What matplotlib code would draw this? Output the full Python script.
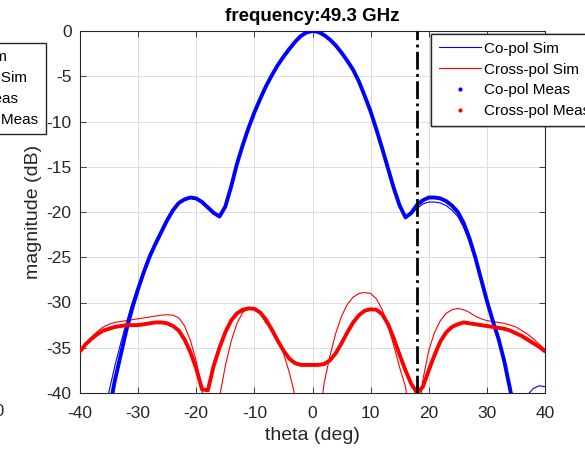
import numpy as np
import matplotlib
matplotlib.use('Agg')
from matplotlib import pyplot as plt
from matplotlib.lines import Line2D

plt.rcParams['font.family'] = ['Liberation Sans', 'DejaVu Sans']
plt.rcParams['axes.unicode_minus'] = False

theta = np.arange(-40, 41)

copol_meas = [-48, -48, -47, -46, -44, -42, -38.6, -35.8, -33.0, -30.6,
              -28.5, -26.6, -24.9, -23.5, -22.2, -20.9, -19.8, -19.0, -18.6, -18.4,
              -18.5, -18.9, -19.5, -20.1, -20.5, -19.4, -17.2, -14.7, -12.6, -10.7,
              -9.0, -7.5, -6.1, -4.9, -3.8, -2.85, -2.0, -1.2, -0.55, -0.15,
              0.0,
              -0.1, -0.45, -0.95, -1.6, -2.4, -3.3, -4.3, -5.6, -7.2, -8.9,
              -10.9, -13.0, -15.2, -17.4, -19.3, -20.6, -20.1, -19.2, -18.7, -18.4,
              -18.4, -18.5, -18.8, -19.3, -20.0, -21.2, -22.9, -25.0, -27.4, -29.8,
              -32.0, -34.0, -36.5, -39.6, -43, -45, -46, -47, -48, -48]

copol_sim = [-48, -48, -47, -46, -43, -39.8, -37.0, -34.5, -32.2, -30.0,
             -28.2, -26.4, -24.7, -23.3, -22.0, -20.8, -19.8, -19.0, -18.6, -18.5,
             -18.6, -19.0, -19.6, -20.1, -20.4, -19.4, -17.2, -14.7, -12.6, -10.7,
             -9.0, -7.5, -6.1, -4.9, -3.8, -2.85, -2.0, -1.2, -0.55, -0.15,
             0.0,
             -0.1, -0.45, -0.95, -1.6, -2.4, -3.3, -4.3, -5.6, -7.2, -8.9,
             -10.9, -13.0, -15.2, -17.4, -19.3, -20.5, -20.2, -19.6, -19.1, -18.9,
             -18.9, -19.0, -19.3, -19.8, -20.5, -21.7, -23.3, -25.3, -27.6, -30.0,
             -32.1, -34.2, -36.6, -39.2, -42, -43, -40.2, -39.5, -39.2, -39.3]

xpol_meas = [-35.4, -34.6, -34.0, -33.5, -33.1, -32.9, -32.7, -32.6, -32.5, -32.5,
             -32.5, -32.4, -32.3, -32.2, -32.2, -32.3, -32.6, -33.1, -34.1, -35.5,
             -37.3, -39.6, -39.7, -37.0, -35.0, -33.3, -32.0, -31.2, -30.8, -30.65,
             -30.7, -31.1, -31.9, -33.0, -34.2, -35.3, -36.2, -36.7, -36.9, -36.9,
             -36.9,
             -36.9, -36.8, -36.4, -35.6, -34.5, -33.3, -32.2, -31.4, -30.9, -30.75,
             -30.8, -31.3, -32.4, -34.0, -35.8, -37.5, -39.0, -40.0, -39.3, -37.5,
             -35.8, -34.3, -33.3, -32.7, -32.4, -32.2, -32.3, -32.4, -32.5, -32.6,
             -32.7, -32.8, -32.9, -33.1, -33.4, -33.7, -34.1, -34.5, -34.9, -35.4]

xpol_sim = [-35.5, -34.6, -33.8, -33.2, -32.7, -32.4, -32.2, -32.1, -32.0, -31.9,
            -31.8, -31.7, -31.6, -31.5, -31.4, -31.35, -31.4, -31.7, -32.6, -34.2,
            -36.5, -39.7, -44, -44, -40.5, -37.0, -34.3, -32.3, -31.1, -30.65,
            -30.7, -31.2, -32.3, -32.8, -34.0, -35.6, -37.7, -40.3, -44, -48,
            -48,
            -44, -38.9, -35.9, -33.4, -31.5, -30.2, -29.4, -29.0, -28.9, -29.0,
            -29.6, -30.8, -32.6, -34.8, -37.2, -39.3, -44, -44, -38.5, -35.3,
            -33.3, -32.0, -31.2, -30.8, -30.65, -30.8, -31.1, -31.5, -31.8, -32.0,
            -32.1, -32.2, -32.3, -32.5, -32.7, -33.1, -33.5, -34.0, -34.6, -35.2]

marker_theta = 17.9
labels = ['Co-pol Sim', 'Cross-pol Sim', 'Co-pol Meas', 'Cross-pol Meas']
dark = '#262626'

fig = plt.figure(figsize=(5.85, 4.49), dpi=100)
ax = fig.add_axes([80/585, 1-393/449, 465/585, 362/449])

ax.plot(theta, copol_sim, color='#0000ff', lw=0.8, zorder=3)
ax.plot(theta, xpol_sim, color='#ff0000', lw=0.8, zorder=3)
ax.plot(theta, copol_meas, color='#0000ff', lw=2.8, zorder=4,
        solid_capstyle='round', solid_joinstyle='round')
ax.plot(theta, xpol_meas, color='#ff0000', lw=2.8, zorder=4,
        solid_capstyle='round', solid_joinstyle='round')
ax.axvline(marker_theta, color='black', lw=2, ls='-.', zorder=5)

ax.set_xlim(-40, 40)
ax.set_ylim(-40, 0)
ax.set_xticks(np.arange(-40, 41, 10))
ax.set_yticks(np.arange(-40, 1, 5))
ax.grid(True, color='#dcdcdc', lw=0.7)
ax.set_axisbelow(True)
ax.tick_params(direction='in', top=True, right=True, labelsize=12.5,
               colors=dark, length=4, width=0.6)
ax.tick_params(axis='x', pad=9)
ax.tick_params(axis='y', pad=6)
for s in ax.spines.values():
    s.set_color(dark)
    s.set_linewidth(0.8)

ax.set_xlabel('theta (deg)', fontsize=14, color=dark, labelpad=5)
ax.set_ylabel('magnitude (dB)', fontsize=14, color=dark, labelpad=3)
ax.set_title('frequency:49.3 GHz', fontsize=13.5, fontweight='bold', pad=7)

handles = [Line2D([], [], color='#0000ff', lw=0.8),
           Line2D([], [], color='#ff0000', lw=0.8),
           Line2D([], [], color='#0000ff', ls='none', marker='.', markersize=4),
           Line2D([], [], color='#ff0000', ls='none', marker='.', markersize=4)]

leg_kw = dict(fontsize=11, frameon=True, fancybox=False, framealpha=1,
              edgecolor=dark, handlelength=2.75, handletextpad=0.25,
              labelspacing=0.45, borderpad=0.5, borderaxespad=0)
leg1 = ax.legend(handles, labels, loc='upper left',
                 bbox_to_anchor=(431/585, 1-34/449),
                 bbox_transform=fig.transFigure, **leg_kw)
leg1.get_frame().set_linewidth(1.0)
ax.add_artist(leg1)

# second copy of the legend, cut off at the left edge
leg2 = fig.legend(handles, labels, loc='upper right',
                  bbox_to_anchor=(46/585, 1-42.5/449), **leg_kw)
leg2.get_frame().set_linewidth(1.0)

fig.text(5/585, 1-412/449, '40', ha='right', va='center', fontsize=12.5, color=dark)

fig.savefig('out.png', dpi=100)
